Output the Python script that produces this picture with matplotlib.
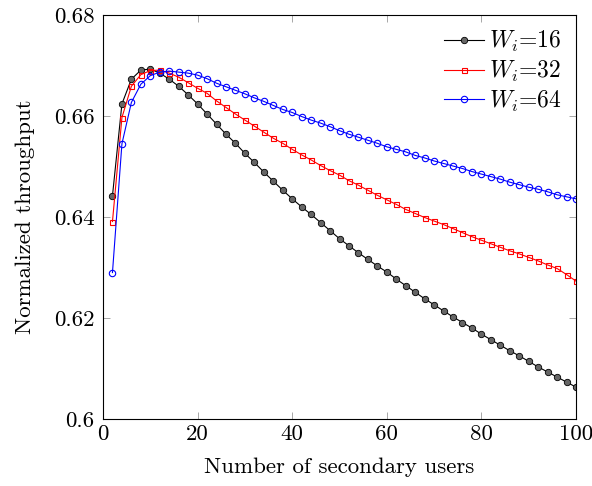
import matplotlib
matplotlib.use("Agg")
import matplotlib.pyplot as plt

plt.rcParams['font.family'] = ['cmr10', 'DejaVu Serif']
plt.rcParams['mathtext.fontset'] = 'cm'
plt.rcParams['axes.formatter.use_mathtext'] = True

# number of secondary users
users = list(range(2, 101, 2))

# W_i = 16
w16 = [0.6442, 0.6624, 0.6673, 0.6691, 0.6693, 0.6685, 0.6673, 0.6659, 0.6642, 0.6624,
       0.6604, 0.6584, 0.6564, 0.6546, 0.6526, 0.6508, 0.6489, 0.6471, 0.6453, 0.6436,
       0.6420, 0.6405, 0.6389, 0.6373, 0.6357, 0.6343, 0.6329, 0.6316, 0.6303, 0.6291,
       0.6277, 0.6264, 0.6251, 0.6238, 0.6226, 0.6214, 0.6202, 0.6191, 0.6180, 0.6168,
       0.6157, 0.6146, 0.6135, 0.6125, 0.6114, 0.6103, 0.6093, 0.6083, 0.6073, 0.6063]
# W_i = 32
w32 = [0.6391, 0.6597, 0.6659, 0.6682, 0.6690, 0.6691, 0.6685, 0.6677, 0.6666, 0.6655,
       0.6645, 0.6630, 0.6617, 0.6604, 0.6592, 0.6580, 0.6568, 0.6556, 0.6546, 0.6534,
       0.6523, 0.6513, 0.6502, 0.6492, 0.6483, 0.6472, 0.6463, 0.6453, 0.6443, 0.6434,
       0.6425, 0.6415, 0.6407, 0.6399, 0.6392, 0.6385, 0.6377, 0.6369, 0.6361, 0.6354,
       0.6347, 0.6340, 0.6333, 0.6327, 0.6320, 0.6313, 0.6305, 0.6298, 0.6286, 0.6273]
# W_i = 64
w64 = [0.6290, 0.6545, 0.6627, 0.6663, 0.6680, 0.6687, 0.6689, 0.6687, 0.6685, 0.6681,
       0.6674, 0.6665, 0.6658, 0.6651, 0.6644, 0.6636, 0.6629, 0.6621, 0.6613, 0.6607,
       0.6599, 0.6592, 0.6586, 0.6579, 0.6571, 0.6564, 0.6558, 0.6552, 0.6546, 0.6539,
       0.6534, 0.6529, 0.6522, 0.6517, 0.6511, 0.6506, 0.6501, 0.6496, 0.6490, 0.6485,
       0.6480, 0.6475, 0.6469, 0.6464, 0.6459, 0.6455, 0.6450, 0.6444, 0.6440, 0.6436]

xticks = [0, 20, 40, 60, 80, 100]
yticks = [0.6, 0.62, 0.64, 0.66, 0.68]
ylabels = ['0.6', '0.62', '0.64', '0.66', '0.68']

fig = plt.figure(figsize=(5.92, 4.86), dpi=100)
ax = fig.add_axes([0.174, 0.138, 0.799, 0.831])

ax.plot(users, w16, color='black', lw=0.8, marker='o', ms=4.6,
        mfc='#666666', mec='black', mew=0.6, label='$W_i$=16')
ax.plot(users, w32, color='red', lw=0.8, marker='s', ms=3.6,
        mfc='none', mec='red', mew=0.8, label='$W_i$=32')
ax.plot(users, w64, color='blue', lw=0.8, marker='o', ms=4.6,
        mfc='none', mec='blue', mew=0.8, label='$W_i$=64')

ax.set_xlim(0, 100)
ax.set_ylim(0.6, 0.68)
ax.set_xticks(xticks)
ax.set_xticklabels([str(t) for t in xticks])
ax.set_yticks(yticks)
ax.set_yticklabels(ylabels)
ax.tick_params(direction='in', top=True, right=True, length=5, width=0.6,
               color='#999999', labelsize=16.5)
ax.tick_params(axis='x', pad=4)
ax.tick_params(axis='y', pad=6)
for s in ax.spines.values():
    s.set_linewidth(0.8)

ax.set_xlabel('Number of secondary users', fontsize=16.5, labelpad=10)
ax.set_ylabel('Normalized throughput', fontsize=16.5, labelpad=14)

leg = ax.legend(loc='upper right', frameon=False, fontsize=17, handlelength=1.7,
                handletextpad=0.2, labelspacing=0.2, borderaxespad=0.2)

fig.savefig('out.png', dpi=100)
